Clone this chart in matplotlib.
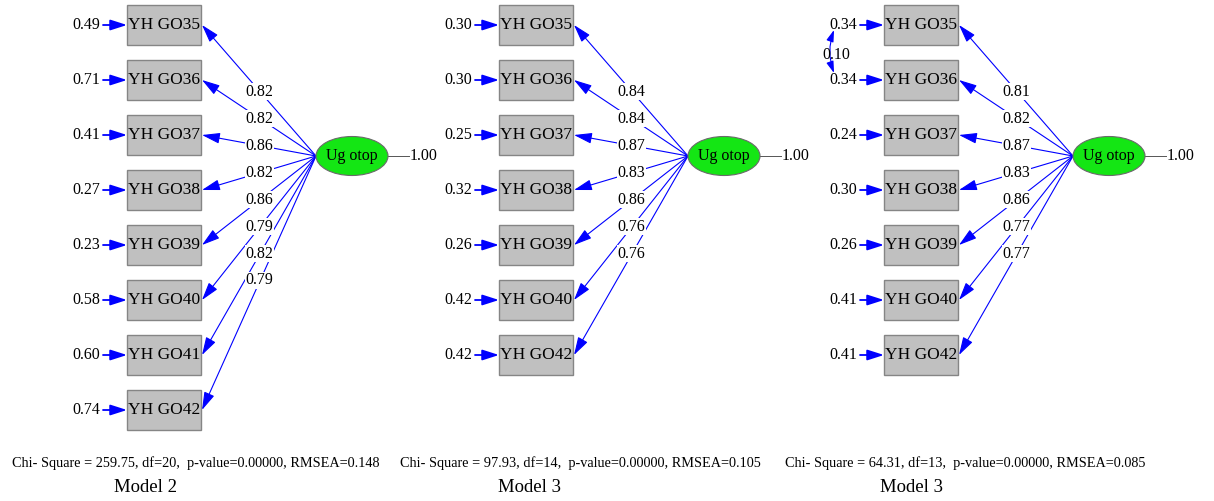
import matplotlib
matplotlib.use("Agg")
import matplotlib.pyplot as plt
from matplotlib.patches import Rectangle, Ellipse, FancyArrowPatch

plt.rcParams['font.family'] = ['Liberation Serif', 'DejaVu Serif']

# --- data ---
items_8 = ['YH GO35', 'YH GO36', 'YH GO37', 'YH GO38', 'YH GO39', 'YH GO40', 'YH GO41', 'YH GO42']
items_7 = ['YH GO35', 'YH GO36', 'YH GO37', 'YH GO38', 'YH GO39', 'YH GO40', 'YH GO42']

load_m2 = [0.82, 0.82, 0.86, 0.82, 0.86, 0.79, 0.82, 0.79]
err_m2 = [0.49, 0.71, 0.41, 0.27, 0.23, 0.58, 0.60, 0.74]

load_m3a = [0.84, 0.84, 0.87, 0.83, 0.86, 0.76, 0.76]
err_m3a = [0.30, 0.30, 0.25, 0.32, 0.26, 0.42, 0.42]

load_m3b = [0.81, 0.82, 0.87, 0.83, 0.86, 0.77, 0.77]
err_m3b = [0.34, 0.34, 0.24, 0.30, 0.26, 0.41, 0.41]
cov_m3b = 0.10  # error covariance GO35 <-> GO36

latent = 'Ug otop'
latent_var = 1.00
fit_texts = ['Chi- Square = 259.75, df=20,  p-value=0.00000, RMSEA=0.148',
             'Chi- Square = 97.93, df=14,  p-value=0.00000, RMSEA=0.105',
             'Chi- Square = 64.31, df=13,  p-value=0.00000, RMSEA=0.085']
titles = ['Model 2', 'Model 3', 'Model 3']

# --- layout (pixel units) ---
panel_left = [127, 499, 884]
fit_left = [12, 400, 785]
title_cx = [146, 530, 912]
box_w, box_h = 74, 40
row0, row_step = 25, 55
lat_dx, lat_y = 225, 156
lat_w, lat_h = 72, 39
blue = '#0000ff'

fig = plt.figure(figsize=(12.14, 5.01), dpi=100)
ax = fig.add_axes([0, 0, 1, 1])
ax.set_xlim(0, 1214)
ax.set_ylim(501, 0)
ax.axis('off')


def arrow(p0, p1, style='-|>', lw=0.8, scale=10, **kw):
    a = FancyArrowPatch(p0, p1, arrowstyle=style, mutation_scale=scale,
                        color=blue, lw=lw, shrinkA=0, shrinkB=0, zorder=2, **kw)
    ax.add_patch(a)


def draw_model(k, items, loads, errs):
    x0 = panel_left[k]
    lx = x0 + lat_dx  # latent centre x
    ex = lx - lat_w / 2
    for i, (name, ld, er) in enumerate(zip(items, loads, errs)):
        y = row0 + row_step * i
        ax.add_patch(Rectangle((x0, y - box_h / 2), box_w, box_h, fc='#c0c0c0',
                               ec='#858585', lw=1, zorder=3))
        ax.text(x0 + box_w / 2, y, name, ha='center', va='center', fontsize=12.5, zorder=4)
        # error term
        ax.text(x0 - 27, y, f'{er:.2f}', ha='right', va='center', fontsize=11.5)
        arrow((x0 - 24, y), (x0, y), style='-|>,head_length=1.0,head_width=0.32', lw=1.3)
        # loading path
        bx = x0 + box_w
        arrow((ex, lat_y), (bx + 1, y), style='-|>,head_length=1.1,head_width=0.33', lw=0.8)
        t = 0.49
        ax.text(ex + (bx - ex) * t, lat_y + (y - lat_y) * t, f'{ld:.2f}', ha='center',
                va='center', fontsize=11.5, zorder=5,
                bbox=dict(fc='white', ec='none', pad=0.3))
    ax.add_patch(Ellipse((lx, lat_y), lat_w, lat_h, fc='#14e614', ec='#6a6a6a', lw=0.8, zorder=3))
    ax.text(lx, lat_y, latent, ha='center', va='center', fontsize=11.5, zorder=4)
    ax.plot([lx + lat_w / 2, lx + lat_w / 2 + 21], [lat_y, lat_y], color='#555555', lw=0.7)
    ax.text(lx + lat_w / 2 + 22, lat_y, f'{latent_var:.2f}', ha='left', va='center', fontsize=11.5)
    ax.text(fit_left[k], 463, fit_texts[k], ha='left', va='center', fontsize=10.3)
    ax.text(title_cx[k], 488, titles[k], ha='center', va='center', fontsize=13.5)


draw_model(0, items_8, load_m2, err_m2)
draw_model(1, items_7, load_m3a, err_m3a)
draw_model(2, items_7, load_m3b, err_m3b)

# correlated errors in the last model
cx = panel_left[2] - 52
arrow((cx + 2, row0 + 5), (cx + 2, row0 + row_step - 7), style='<|-|>,head_length=0.7,head_width=0.22',
      lw=0.8, connectionstyle='arc3,rad=0.18')
ax.text(cx + 4, row0 + row_step / 2 + 2, f'{cov_m3b:.2f}', ha='center', va='center', fontsize=11.5, zorder=5)

fig.savefig('out.png', dpi=100, facecolor='white')
